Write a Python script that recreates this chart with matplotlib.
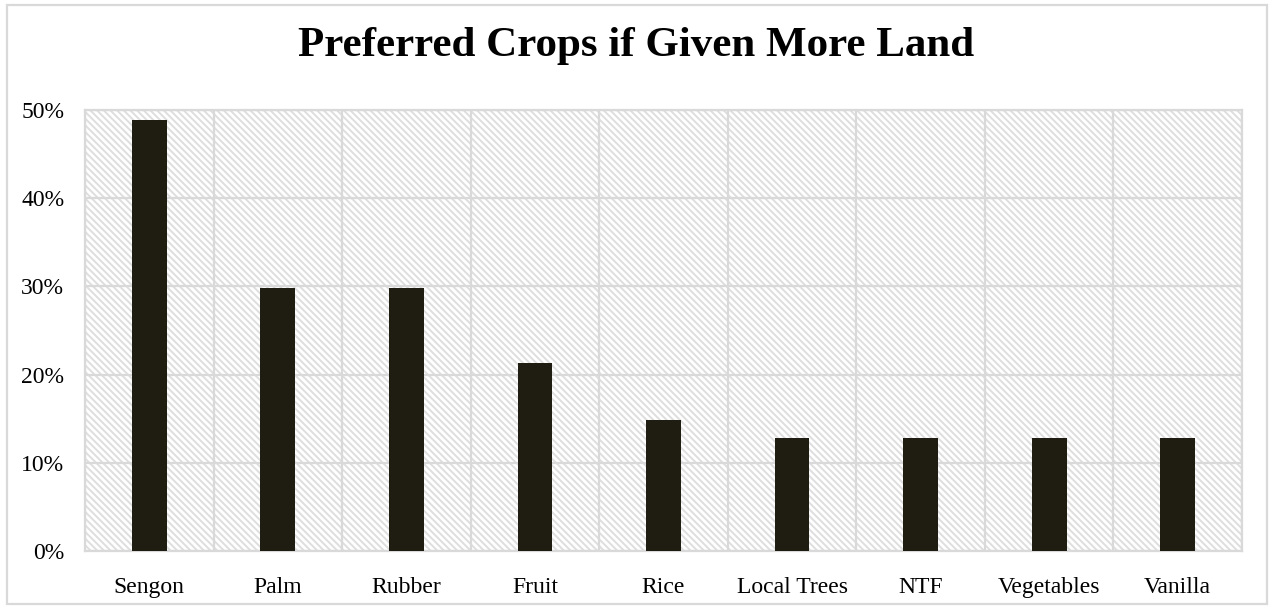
"""Bar chart of preferred crops if farmers were given more land."""

import matplotlib

matplotlib.use("Agg")
import matplotlib.pyplot as plt
from matplotlib.patches import Rectangle
from matplotlib.ticker import FuncFormatter, MultipleLocator
import numpy as np

crops = ["Sengon", "Palm", "Rubber", "Fruit", "Rice", "Local Trees", "NTF", "Vegetables", "Vanilla"]
share_pct = [48.9, 29.8, 29.8, 21.3, 14.9, 12.8, 12.8, 12.8, 12.8]

BAR_COLOR = "#1f1c11"
GRID_COLOR = "#d9d9d9"

plt.rcParams["font.family"] = ["Liberation Serif", "DejaVu Serif"]
plt.rcParams["hatch.linewidth"] = 1.4

fig = plt.figure(figsize=(12.73, 6.06), dpi=100)
ax = fig.add_axes([85 / 1273, 1 - 551 / 606, (1242 - 85) / 1273, (551 - 110) / 606])

x = np.arange(len(crops))

# hatched plot-area background
ax.add_patch(Rectangle((0, 0), 1, 1, transform=ax.transAxes, facecolor="white",
                       edgecolor="#dedede", hatch="\\" * 5, linewidth=0, zorder=0))

ax.bar(x, share_pct, width=0.27, color=BAR_COLOR, zorder=3)

ax.set_xlim(-0.5, len(crops) - 0.5)
ax.set_ylim(0, 50)
ax.yaxis.set_major_locator(MultipleLocator(10))
ax.yaxis.set_major_formatter(FuncFormatter(lambda v, _: f"{v:.0f}%"))
ax.set_xticks(x)
ax.set_xticklabels(crops)
ax.tick_params(axis="both", length=0, labelsize=17)
ax.tick_params(axis="y", pad=15)
ax.tick_params(axis="x", pad=19)

# grid: horizontal at ticks, vertical between categories
for yv in range(0, 51, 10):
    ax.axhline(yv, color=GRID_COLOR, lw=1.6, zorder=1)
for xv in np.arange(-0.5, len(crops), 1.0):
    ax.axvline(xv, color=GRID_COLOR, lw=1.6, zorder=1)
for side in ax.spines.values():
    side.set_color(GRID_COLOR)
    side.set_linewidth(1.6)

fig.text(0.5, 1 - 46 / 606, "Preferred Crops if Given More Land", ha="center", va="center",
         fontsize=31, fontweight="bold")

fig.patches.append(Rectangle((7 / 1273, 1 - 604 / 606), 1260 / 1273, 599 / 606,
                             transform=fig.transFigure, fill=False,
                             edgecolor=GRID_COLOR, linewidth=1.6))

fig.savefig("out.png", dpi=100)
